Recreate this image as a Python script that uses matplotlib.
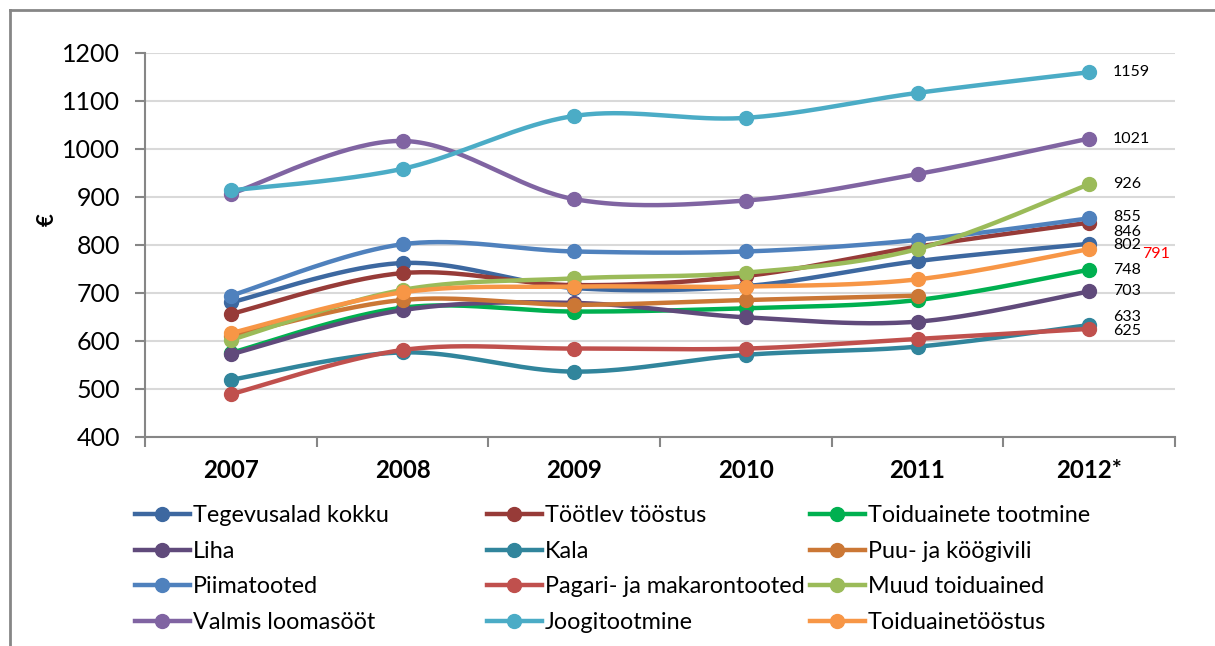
import numpy as np
import matplotlib.pyplot as plt
from matplotlib.lines import Line2D

# --- data ---
years = ['2007', '2008', '2009', '2010', '2011', '2012*']

tegevusalad_kokku = [680, 762, 710, 714, 766, 802]
tootlev_toostus = [656, 741, 716, 735, 796, 846]
toiduainete_tootmine = [575, 669, 661, 668, 685, 748]
liha = [572, 664, 679, 649, 640, 703]
kala = [519, 576, 536, 571, 588, 633]
puu_ja_koogivili = [610, 685, 675, 685, 694, np.nan]
piimatooted = [694, 801, 786, 786, 810, 855]
pagari = [489, 581, 584, 584, 604, 625]
muud_toiduained = [602, 706, 730, 742, 791, 926]
valmis_loomasoot = [906, 1016, 895, 892, 947, 1021]
joogitootmine = [913, 958, 1068, 1064, 1116, 1159]
toiduainetoostus = [616, 701, 713, 713, 728, 791]

names = ['Tegevusalad kokku', 'Töötlev tööstus', 'Toiduainete tootmine',
         'Liha', 'Kala', 'Puu- ja köögivili',
         'Piimatooted', 'Pagari- ja makarontooted', 'Muud toiduained',
         'Valmis loomasööt', 'Joogitootmine', 'Toiduainetööstus']
series = [tegevusalad_kokku, tootlev_toostus, toiduainete_tootmine,
          liha, kala, puu_ja_koogivili,
          piimatooted, pagari, muud_toiduained,
          valmis_loomasoot, joogitootmine, toiduainetoostus]
colors = ['#3D68A0', '#973B38', '#00B050',
          '#604A7B', '#31859C', '#CB7735',
          '#4F81BD', '#C0504D', '#9BBB59',
          '#8064A2', '#4BACC6', '#F79646']

# label offsets for the 2012 values (pixels), style only
label_dx = [24, 24, 24, 24, 24, 24, 24, 24, 24, 24, 24, 53]
label_dy = [-1, -9, 0, 0, 8, 0, 1, -2, 0, 0, 0, -5]
label_col = ['black'] * 11 + ['red']

plt.rcParams['font.family'] = ['Lato', 'DejaVu Sans']


def smooth(xs, ys, n=40):
    # Excel-style smoothed line (Catmull-Rom as cubic Bezier)
    pts = np.column_stack([xs, ys]).astype(float)
    out = []
    t = np.linspace(0, 1, n)[:, None]
    for i in range(len(pts) - 1):
        p0 = pts[max(i - 1, 0)]
        p1 = pts[i]
        p2 = pts[i + 1]
        p3 = pts[min(i + 2, len(pts) - 1)]
        c1 = p1 + (p2 - p0) / 6
        c2 = p2 - (p3 - p1) / 6
        seg = (1 - t) ** 3 * p1 + 3 * (1 - t) ** 2 * t * c1 + 3 * (1 - t) * t ** 2 * c2 + t ** 3 * p2
        out.append(seg if i == 0 else seg[1:])
    return np.vstack(out)


W, H = 1215, 646
fig = plt.figure(figsize=(W / 100, H / 100), dpi=100)
ax = fig.add_axes([145 / W, 1 - 437 / H, (1175 - 145) / W, (437 - 52.5) / H])

x = np.arange(len(years))
for i, (vals, c) in enumerate(zip(series, colors)):
    v = np.array(vals, dtype=float)
    ok = ~np.isnan(v)
    curve = smooth(x[ok], v[ok])
    ax.plot(curve[:, 0], curve[:, 1], color=c, lw=3.2, solid_capstyle='round', zorder=3 + i)
    ax.plot(x[ok], v[ok], 'o', color=c, ms=10, zorder=3 + i)
    if ok[-1]:
        ax.annotate(f'{int(v[-1])}', (x[-1], v[-1]), xytext=(label_dx[i], label_dy[i]),
                    textcoords='offset pixels', ha='left', va='center',
                    fontsize=11.5, color=label_col[i], zorder=30)

ax.set_xlim(-0.5, len(years) - 0.5)
ax.set_ylim(400, 1200)
ax.set_yticks(range(400, 1201, 100))
ax.set_xticks(np.arange(-0.5, len(years), 1))
ax.set_xticklabels([])
ax.set_xticks(x, minor=True)
ax.set_xticklabels(years, minor=True, fontweight='bold', fontsize=17.3)
ax.tick_params(axis='x', which='minor', length=0, pad=16)
ax.tick_params(axis='x', which='major', length=7, width=1.5, color='#868686')
ax.tick_params(axis='y', length=7, width=1.5, color='#868686', labelsize=18, pad=11)
ax.grid(axis='y', color='#D9D9D9', lw=1.5)
ax.set_axisbelow(True)
for s in ['top', 'right']:
    ax.spines[s].set_visible(False)
for s in ['left', 'bottom']:
    ax.spines[s].set_color('#868686')
    ax.spines[s].set_linewidth(1.5)

fig.text(47 / W, 1 - 220 / H, '€', rotation=90, fontsize=16, fontweight='bold',
         ha='center', va='center')

# legend in three columns, row-wise order like Excel
handles = [Line2D([], [], color=c, lw=3.2, marker='o', ms=10) for c in colors]
col_x = [135, 487, 810]
for k in range(3):
    idx = [k, k + 3, k + 6, k + 9]
    leg = fig.legend([handles[j] for j in idx], [names[j] for j in idx],
                     loc='upper left', bbox_to_anchor=(col_x[k] / W, 1 - 505 / H),
                     frameon=False, borderpad=0, borderaxespad=0, fontsize=16.8,
                     handlelength=2.35, handletextpad=0.12, labelspacing=0.63)

# outer chart border (top and left visible)
fig.add_artist(Line2D([10 / W, 1], [1 - 10 / H, 1 - 10 / H], color='#868686', lw=2))
fig.add_artist(Line2D([10 / W, 10 / W], [0, 1 - 10 / H], color='#868686', lw=2))

fig.savefig('out.png', dpi=100, facecolor='white')
